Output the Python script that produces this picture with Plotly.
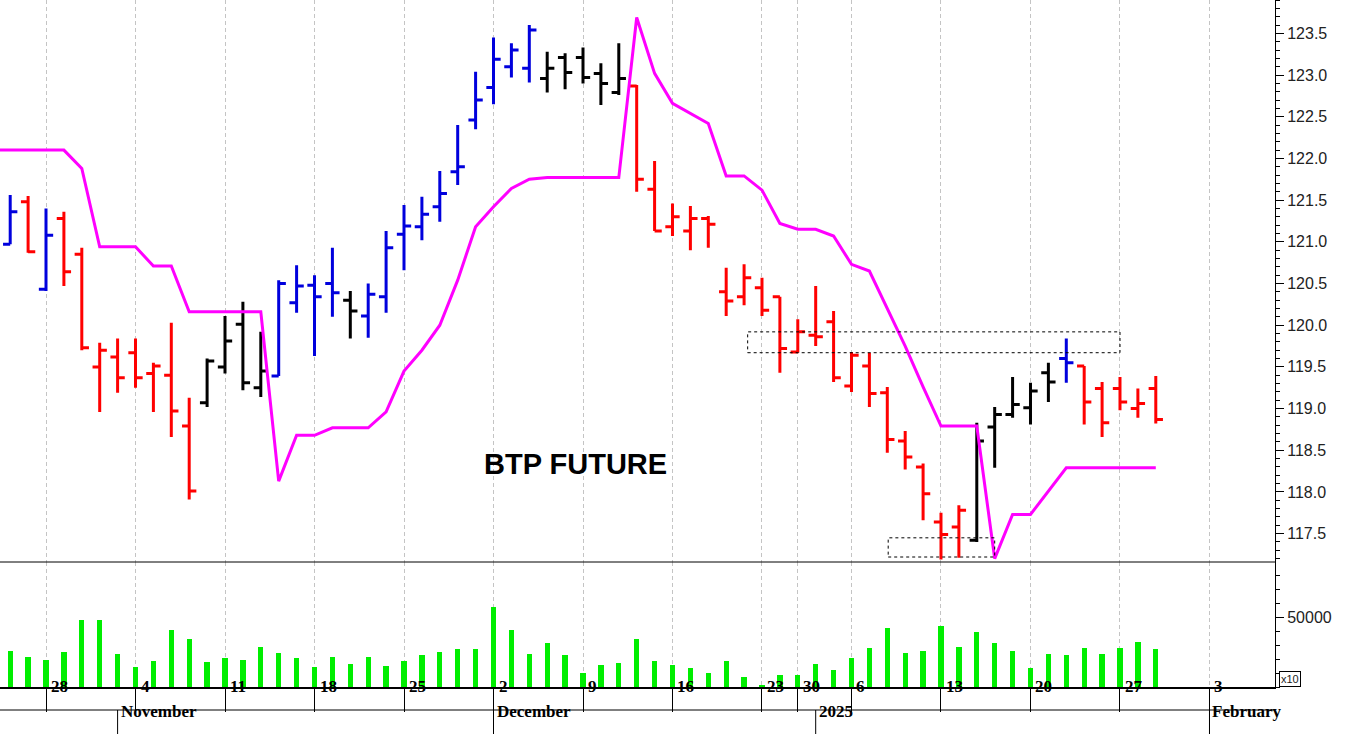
import plotly.graph_objects as go
from plotly.subplots import make_subplots

# trading day index 0 = 23 Oct 2024 ... 65 = 29 Jan 2025
opens = [121.1, 120.97, 121.48, 120.43, 121.28, 120.85, 119.5, 119.62, 119.67, 119.42,
         119.4, 118.79, 119.07, 119.5, 120.01, 119.25, 119.39, 120.27, 120.48, 120.5,
         120.3, 120.11, 120.34, 121.09, 121.18, 121.42, 121.84, 122.46, 122.85, 123.1,
         123.08, 122.96, 123.21, 123.21, 123.02, 122.79, 122.87, 121.63, 121.18, 121.13,
         121.28, 120.4, 120.34, 120.45, 120.34, 119.68, 119.88, 120.04, 119.27, 119.51,
         119.19, 118.61, 118.3, 117.64, 117.58, 117.42, 118.78, 118.93, 119.01, 119.43,
         119.6, 119.51, 119.24, 119.24, 119.0, 119.24]
highs = [121.3, 121.56, 121.55, 121.4, 121.36, 120.93, 119.79, 119.84, 119.84, 119.55,
         120.03, 119.13, 119.6, 120.11, 120.28, 119.92, 120.54, 120.72, 120.6, 120.93,
         120.41, 120.5, 121.13, 121.44, 121.54, 121.85, 122.4, 123.04, 123.45, 123.38,
         123.6, 123.28, 123.26, 123.33, 123.14, 123.38, 122.88, 121.97, 121.46, 121.43,
         121.31, 120.69, 120.73, 120.57, 120.34, 120.07, 120.47, 120.17, 119.68, 119.67,
         119.26, 118.73, 118.34, 117.75, 117.84, 118.83, 119.02, 119.38, 119.31, 119.55,
         119.84, 119.51, 119.32, 119.38, 119.24, 119.39]
lows = [120.5, 120.97, 120.87, 120.41, 120.47, 119.7, 118.96, 119.19, 119.25, 118.96,
        118.66, 117.91, 119.02, 119.42, 119.22, 119.14, 119.39, 120.15, 119.63, 120.1,
        119.84, 119.85, 120.15, 120.66, 121.02, 121.24, 121.68, 122.35, 122.65, 122.97,
        122.91, 122.79, 122.83, 122.9, 122.64, 122.76, 121.6, 121.13, 121.07, 120.9,
        120.93, 120.11, 120.24, 120.11, 119.43, 119.67, 119.75, 119.32, 119.2, 119.02,
        118.47, 118.27, 117.66, 117.19, 117.21, 117.4, 118.29, 118.89, 118.81, 119.08,
        119.31, 118.81, 118.66, 118.98, 118.89, 118.82]
closes = [120.83, 121.36, 120.88, 121.08, 120.64, 119.73, 119.7, 119.37, 119.37, 119.51,
          118.97, 118.01, 119.57, 119.81, 119.31, 119.45, 120.5, 120.47, 120.34, 120.39,
          120.17, 120.37, 120.93, 121.19, 121.33, 121.58, 121.9, 122.7, 123.19, 123.3,
          123.54, 123.08, 123.03, 122.97, 122.9, 122.96, 121.75, 121.13, 121.3, 121.28,
          121.21, 120.29, 120.57, 120.18, 119.72, 119.92, 119.86, 119.37, 119.64, 119.18,
          118.63, 118.42, 117.98, 117.49, 117.78, 118.61, 118.93, 119.05, 119.21, 119.32,
          119.55, 119.08, 118.83, 119.08, 119.06, 118.87]
trend = (["red", "blue", "red", "blue"] + ["red"] * 8 + ["black"] * 4 + ["blue"] * 4
         + ["black"] + ["blue"] * 10 + ["black"] * 5 + ["red"] * 19 + ["black"] * 5
         + ["blue"] + ["red"] * 5)
stop_line = [122.1, 122.1, 122.1, 122.1, 122.1, 121.88, 120.94, 120.94, 120.94, 120.71,
             120.71, 120.16, 120.16, 120.16, 120.16, 120.16, 118.13, 118.68, 118.68, 118.77,
             118.77, 118.77, 118.96, 119.45, 119.7, 120.0, 120.54, 121.18, 121.42, 121.64,
             121.75, 121.77, 121.77, 121.77, 121.77, 121.77, 123.69, 123.02, 122.66, 122.54,
             122.42, 121.79, 121.79, 121.62, 121.22, 121.15, 121.15, 121.07, 120.73, 120.65,
             120.2, 119.75, 119.26, 118.79, 118.79, 118.79, 117.2, 117.73, 117.73, 118.01,
             118.29, 118.29, 118.29, 118.29, 118.29, 118.29]
volume = [20000, 26000, 21600, 19400, 25000, 47900, 47900, 23600, 14600, 18700,
          40600, 34000, 17700, 20700, 19400, 28900, 24500, 20700, 14300, 21600,
          16300, 21600, 15300, 18700, 22600, 25000, 27200, 27200, 57100, 40600,
          23800, 31100, 22800, 10000, 15600, 17500, 34500, 18700, 15800, 13600,
          10200, 18700, 7000, 1200, 8300, 8300, 16500, 12200, 20900, 28200,
          42500, 24500, 25800, 43500, 28900, 39400, 31100, 25800, 13400, 23800,
          22800, 28200, 23800, 28200, 32300, 27200]

week_idx = [3, 8, 13, 18, 23, 28, 33, 38, 43, 45, 48, 53, 58, 63, 68]
week_lbl = ["28", "4", "11", "18", "25", "2", "9", "16", "23", "30", "6", "13", "20", "27", "3"]
month_idx = [7, 28, 46, 68]
month_lbl = ["November", "December", "2025", "February"]

days = list(range(len(closes)))
colors = {"red": "#ff0000", "blue": "#0000dd", "black": "#000000"}

fig = make_subplots(rows=2, cols=1, shared_xaxes=True, vertical_spacing=0,
                    row_heights=[562 / 687, 125 / 687])

for name, col in colors.items():
    sel = [i for i in days if trend[i] == name]
    fig.add_trace(go.Ohlc(
        x=sel, open=[opens[i] for i in sel], high=[highs[i] for i in sel],
        low=[lows[i] for i in sel], close=[closes[i] for i in sel],
        increasing=dict(line=dict(color=col, width=3)),
        decreasing=dict(line=dict(color=col, width=3)),
        tickwidth=0.4, showlegend=False, hoverinfo="skip"), row=1, col=1)

fig.add_trace(go.Scatter(x=days, y=stop_line, mode="lines",
                         line=dict(color="#ff00ff", width=3), showlegend=False),
              row=1, col=1)
fig.add_trace(go.Bar(x=days, y=volume, width=0.3, marker=dict(color="#00ee00", line_width=0),
                     showlegend=False), row=2, col=1)

xr = [0.43, 71.66]
grid = dict(showgrid=True, gridcolor="#c4c4c4", griddash="4px,3px", gridwidth=1, automargin=False,
            tickvals=week_idx, range=xr, zeroline=False, showticklabels=False)
fig.update_xaxes(**grid, rangeslider_visible=False, row=1, col=1)
fig.update_xaxes(**grid, ticks="outside", ticklen=23, tickcolor="black", tickwidth=1,
                 showline=True, linecolor="black", linewidth=2, row=2, col=1)

fig.update_yaxes(side="right", range=[117.16, 123.9], tickvals=[117.5 + 0.5 * k for k in range(13)],
                 ticktext=["%.1f" % (117.5 + 0.5 * k) for k in range(13)], automargin=False,
                 ticks="outside", ticklen=8, tickcolor="black", showgrid=False, zeroline=False,
                 showline=True, linecolor="black",
                 minor=dict(dtick=0.1, tick0=117.5, ticks="outside", ticklen=4, tickcolor="black"),
                 tickfont=dict(family="Liberation Sans", size=16, color="#222"), row=1, col=1)
fig.update_yaxes(side="right", range=[0, 89300], tickvals=[50000], ticktext=["50000"],
                 ticks="outside", ticklen=8, automargin=False,
                 tickcolor="black", showgrid=False, zeroline=False, showline=True, linecolor="black",
                 minor=dict(dtick=10000, ticks="outside", ticklen=4, tickcolor="black"),
                 tickfont=dict(family="Liberation Sans", size=16, color="#222"), row=2, col=1)

# dashed boxes
for x0, x1, y0, y1 in [(42.2, 63.0, 119.67, 119.92), (50.05, 56.0, 117.22, 117.45)]:
    fig.add_shape(type="rect", x0=x0, x1=x1, y0=y0, y1=y1, xref="x", yref="y",
                  line=dict(color="black", width=1, dash="dot"))

# panel separator and date band lines
h = 687.0
fig.add_shape(type="line", xref="paper", yref="paper", x0=0, x1=1, y0=125 / h, y1=125 / h,
              line=dict(color="black", width=1))
fig.add_shape(type="line", xref="paper", yref="paper", x0=0, x1=1, y0=-23 / h, y1=-23 / h,
              line=dict(color="black", width=1))
for m in month_idx:
    fig.add_shape(type="line", xref="x2", yref="paper", x0=m, x1=m, y0=-23 / h, y1=-47 / h,
                  line=dict(color="black", width=1))
fig.add_shape(type="line", xref="x2", yref="paper", x0=68, x1=68, y0=0, y1=-47 / h,
              line=dict(color="black", width=1))

lbl_font = dict(family="Liberation Serif", size=17, color="black")
for i, t in zip(week_idx, week_lbl):
    fig.add_annotation(x=i, y=-11.5 / h, xref="x2", yref="paper", text="<b>%s</b>" % t,
                       showarrow=False, xanchor="left", xshift=3, font=lbl_font)
for i, t in zip(month_idx, month_lbl):
    fig.add_annotation(x=i, y=-35.5 / h, xref="x2", yref="paper", text="<b>%s</b>" % t,
                       showarrow=False, xanchor="left", xshift=1, font=lbl_font)

fig.add_annotation(x=0.451, y=0.298, xref="paper", yref="paper", text="<b>BTP FUTURE</b>",
                   showarrow=False, font=dict(family="Liberation Sans", size=29, color="black"))
fig.add_annotation(x=1, y=0, xref="paper", yref="paper", text="x10", showarrow=False,
                   xanchor="left", yanchor="bottom", xshift=4, bordercolor="black", borderwidth=1,
                   borderpad=1, font=dict(family="Liberation Sans", size=11, color="#222"))

fig.update_layout(width=1346, height=734, margin=dict(l=0, r=71, t=0, b=47),
                  plot_bgcolor="white", paper_bgcolor="white", bargap=0)

fig.write_html("out.html", config={"displayModeBar": False},
               post_script="document.body.style.margin='0';")
